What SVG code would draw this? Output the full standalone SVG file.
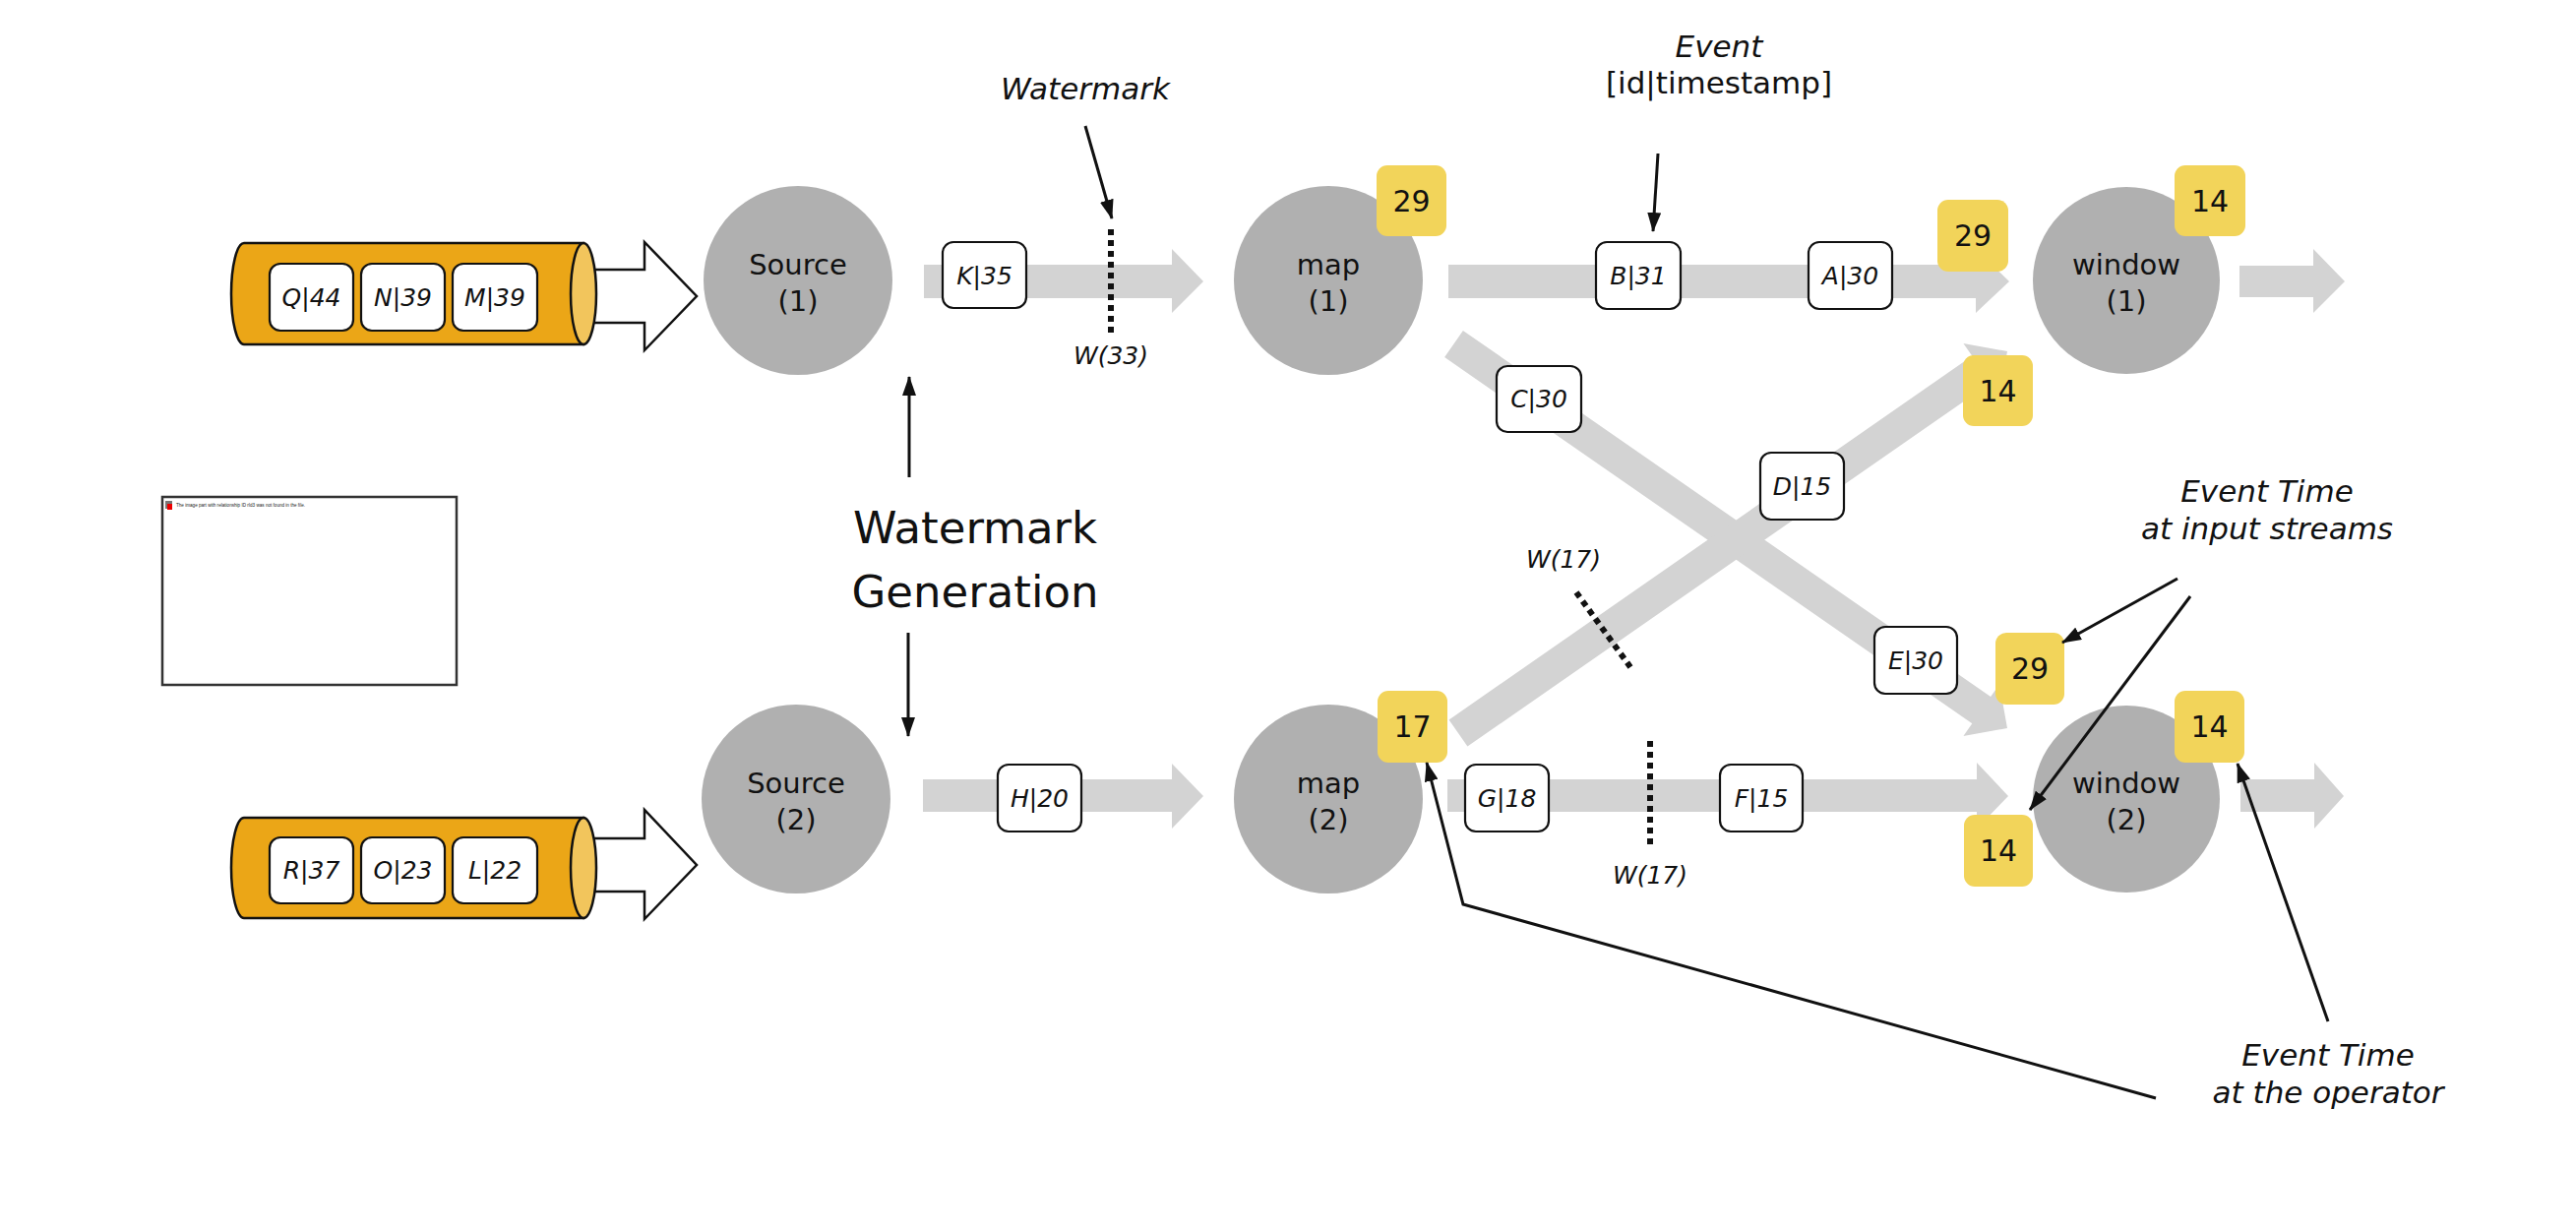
<svg xmlns="http://www.w3.org/2000/svg" width="2618" height="1252" viewBox="0 0 2618 1252">
<defs>
<style>
.node{fill:#B0B0B0}
.band{fill:#D3D3D3}
.badge{fill:#F2D45A}
.evt{fill:#FFFFFF;stroke:#111;stroke-width:2.2}
.ntxt{font-family:"DejaVu Sans",Verdana,sans-serif;font-size:29px;fill:#111;text-anchor:middle}
.etxt{font-family:"DejaVu Sans",Verdana,sans-serif;font-size:25px;font-style:italic;fill:#111;text-anchor:middle}
.btxt{font-family:"DejaVu Sans",Verdana,sans-serif;font-size:30px;fill:#111;text-anchor:middle}
.lbl{font-family:"DejaVu Sans",Verdana,sans-serif;font-size:31px;font-style:italic;fill:#111;text-anchor:middle}
.lbln{font-family:"DejaVu Sans",Verdana,sans-serif;font-size:31px;font-style:normal;fill:#111;text-anchor:middle}
.big{font-family:"DejaVu Sans",Verdana,sans-serif;font-size:45px;fill:#111;text-anchor:middle}
.wtxt{font-family:"DejaVu Sans",Verdana,sans-serif;font-size:25px;font-style:italic;fill:#111;text-anchor:middle}
.dots{stroke:#111;stroke-width:6;stroke-dasharray:6 5;fill:none}
.ann{stroke:#111;stroke-width:3;fill:none}
.cyl{fill:#EBA617;stroke:#111;stroke-width:2.5}
.cylend{fill:#F2C55C;stroke:#111;stroke-width:2.5}
.out{fill:#FFFFFF;stroke:#111;stroke-width:2.5}
</style>
<marker id="ah" viewBox="0 0 20 14" refX="19" refY="7" markerWidth="20" markerHeight="14" markerUnits="userSpaceOnUse" orient="auto">
<path d="M0,0 L20,7 L0,14 z" fill="#111"/>
</marker>
</defs>
<rect width="2618" height="1252" fill="#FFFFFF"/>

<!-- missing image placeholder -->
<g id="placeholder">
<rect x="165" y="505" width="299" height="191" fill="#FFFFFF" stroke="#333" stroke-width="2.5"/>
<rect x="168" y="509" width="7" height="8" fill="#777"/>
<rect x="170" y="512" width="5" height="6" fill="#E00"/>
<text x="179" y="515" font-family="Liberation Sans, Arial, sans-serif" font-size="4.6" fill="#222">The image part with relationship ID rId3 was not found in the file.</text>
</g>

<!-- connectors -->
<g id="connectors">
<path id="c-in1" class="out" d="M600,274 L655,274 L655,246 L708,301 L655,356 L655,328 L600,328"/>
<path id="c-in2" class="out" d="M600,852 L655,852 L655,823 L708,879 L655,934 L655,906 L600,906"/>
<polygon id="c-s1-m1" class="band" points="939,269 1191,269 1191,253 1223,286 1191,318 1191,303 939,303"/>
<polygon id="c-s2-m2" class="band" points="938,792 1191,792 1191,776 1223,809 1191,842 1191,825 938,825"/>
<polygon id="c-m1-w1" class="band" points="1472,269 2008,269 2008,253 2042,286 2008,318 2008,303 1472,303"/>
<polygon id="c-w1-out" class="band" points="2276,270 2351,270 2351,253 2383,286 2351,318 2351,302 2276,302"/>
<polygon id="c-m2-w2" class="band" points="1471,792 2009,792 2009,775 2041,809 2009,842 2009,825 1471,825"/>
<polygon id="c-w2-out" class="band" points="2277,792 2352,792 2352,775 2382,809 2352,842 2352,825 2277,825"/>
<polygon id="c-m1-w2" class="band" points="1486.9,335.9 2023.1,708.1 2032,695.4 2040,740 1995.4,748 2004.3,735.3 1468.1,363.1"/>
<polygon id="c-m2-w1" class="band" points="1472.6,731.4 2004.3,361.7 1995.4,349 2040,357 2032,401.6 2023.1,388.9 1491.4,758.6"/>
</g>

<!-- kafka-like input queues -->
<g id="queue1">
<path class="cyl" d="M248,247 L593,247 L593,350 L248,350 A13,51.5 0 0 1 248,247 z"/>
<ellipse class="cylend" cx="593" cy="298.5" rx="13" ry="51.5"/>
<rect class="evt" x="274" y="268" width="85" height="68" rx="11"/>
<text class="etxt" x="316.5" y="311">Q|44</text>
<rect class="evt" x="367" y="268" width="85" height="68" rx="11"/>
<text class="etxt" x="409.5" y="311">N|39</text>
<rect class="evt" x="460" y="268" width="86" height="68" rx="11"/>
<text class="etxt" x="503" y="311">M|39</text>
</g>
<g id="queue2">
<path class="cyl" d="M248,831 L593,831 L593,933 L248,933 A13,51 0 0 1 248,831 z"/>
<ellipse class="cylend" cx="593" cy="882" rx="13" ry="51"/>
<rect class="evt" x="274" y="851" width="85" height="67" rx="11"/>
<text class="etxt" x="316.5" y="893">R|37</text>
<rect class="evt" x="367" y="851" width="85" height="67" rx="11"/>
<text class="etxt" x="409.5" y="893">O|23</text>
<rect class="evt" x="460" y="851" width="86" height="67" rx="11"/>
<text class="etxt" x="503" y="893">L|22</text>
</g>

<!-- events on streams -->
<g id="events">
<g id="ev-K35"><rect class="evt" x="958" y="246" width="85" height="67" rx="11"/><text class="etxt" x="1000.5" y="289">K|35</text></g>
<g id="ev-B31"><rect class="evt" x="1622" y="246" width="86" height="68" rx="11"/><text class="etxt" x="1665" y="289">B|31</text></g>
<g id="ev-A30"><rect class="evt" x="1838" y="246" width="85" height="68" rx="11"/><text class="etxt" x="1880.5" y="289">A|30</text></g>
<g id="ev-C30"><rect class="evt" x="1521" y="372" width="86" height="67" rx="11"/><text class="etxt" x="1564" y="414">C|30</text></g>
<g id="ev-D15"><rect class="evt" x="1789" y="460" width="85" height="68" rx="11"/><text class="etxt" x="1831.5" y="503">D|15</text></g>
<g id="ev-E30"><rect class="evt" x="1905" y="637" width="84" height="68" rx="11"/><text class="etxt" x="1947" y="680">E|30</text></g>
<g id="ev-H20"><rect class="evt" x="1014" y="777" width="85" height="68" rx="11"/><text class="etxt" x="1056.5" y="820">H|20</text></g>
<g id="ev-G18"><rect class="evt" x="1489" y="777" width="85" height="68" rx="11"/><text class="etxt" x="1531.5" y="820">G|18</text></g>
<g id="ev-F15"><rect class="evt" x="1748" y="777" width="84" height="68" rx="11"/><text class="etxt" x="1790" y="820">F|15</text></g>
</g>

<!-- operator nodes -->
<g id="source1"><circle class="node" cx="811" cy="285" r="96"/><text class="ntxt" x="811" y="279">Source</text><text class="ntxt" x="811" y="316">(1)</text></g>
<g id="source2"><circle class="node" cx="809" cy="812" r="96"/><text class="ntxt" x="809" y="806">Source</text><text class="ntxt" x="809" y="843">(2)</text></g>
<g id="map1"><circle class="node" cx="1350" cy="285" r="96"/><text class="ntxt" x="1350" y="279">map</text><text class="ntxt" x="1350" y="316">(1)</text></g>
<g id="map2"><circle class="node" cx="1350" cy="812" r="96"/><text class="ntxt" x="1350" y="806">map</text><text class="ntxt" x="1350" y="843">(2)</text></g>
<g id="window1"><circle class="node" cx="2161" cy="285" r="95"/><text class="ntxt" x="2161" y="279">window</text><text class="ntxt" x="2161" y="316">(1)</text></g>
<g id="window2"><circle class="node" cx="2161" cy="812" r="95"/><text class="ntxt" x="2161" y="806">window</text><text class="ntxt" x="2161" y="843">(2)</text></g>

<!-- event time badges -->
<g id="badges">
<g id="bd-map1"><rect class="badge" x="1399" y="168" width="71" height="72" rx="11"/><text class="btxt" x="1434.5" y="215">29</text></g>
<g id="bd-w1-in1"><rect class="badge" x="1969" y="203" width="72" height="73" rx="11"/><text class="btxt" x="2005" y="250">29</text></g>
<g id="bd-w1"><rect class="badge" x="2210" y="168" width="72" height="72" rx="11"/><text class="btxt" x="2246" y="215">14</text></g>
<g id="bd-w1-in2"><rect class="badge" x="1995" y="361" width="71" height="72" rx="11"/><text class="btxt" x="2030.5" y="408">14</text></g>
<g id="bd-w2-in1"><rect class="badge" x="2028" y="643" width="70" height="73" rx="11"/><text class="btxt" x="2063" y="690">29</text></g>
<g id="bd-map2"><rect class="badge" x="1400" y="702" width="71" height="73" rx="11"/><text class="btxt" x="1435.5" y="749">17</text></g>
<g id="bd-w2"><rect class="badge" x="2210" y="702" width="71" height="73" rx="11"/><text class="btxt" x="2245.5" y="749">14</text></g>
<g id="bd-w2-in2"><rect class="badge" x="1996" y="828" width="70" height="73" rx="11"/><text class="btxt" x="2031" y="875">14</text></g>
</g>

<!-- watermarks -->
<g id="watermarks">
<line class="dots" x1="1129" y1="233" x2="1129" y2="340"/>
<text class="wtxt" x="1129" y="370">W(33)</text>
<line class="dots" x1="1602" y1="602" x2="1657" y2="678"/>
<text class="wtxt" x="1589" y="577">W(17)</text>
<line class="dots" x1="1677" y1="753" x2="1677" y2="860"/>
<text class="wtxt" x="1677" y="898">W(17)</text>
</g>

<!-- annotations -->
<g id="annotations">
<text class="lbl" x="1103" y="101">Watermark</text>
<line class="ann" x1="1103" y1="128" x2="1130" y2="222" marker-end="url(#ah)"/>
<text class="lbl" x="1747" y="58">Event</text>
<text class="lbln" x="1747" y="95">[id|timestamp]</text>
<line class="ann" x1="1685" y1="156" x2="1680" y2="235" marker-end="url(#ah)"/>
<text class="big" x="991" y="552">Watermark</text>
<text class="big" x="991" y="617">Generation</text>
<line class="ann" x1="924" y1="485" x2="924" y2="383" marker-end="url(#ah)"/>
<line class="ann" x1="923" y1="643" x2="923" y2="748" marker-end="url(#ah)"/>
<text class="lbl" x="2304" y="510">Event Time</text>
<text class="lbl" x="2304" y="548">at input streams</text>
<line class="ann" x1="2213" y1="588" x2="2096" y2="653" marker-end="url(#ah)"/>
<line class="ann" x1="2226" y1="606" x2="2063" y2="823" marker-end="url(#ah)"/>
<text class="lbl" x="2366" y="1083">Event Time</text>
<text class="lbl" x="2366" y="1121">at the operator</text>
<line class="ann" x1="2366" y1="1038" x2="2274" y2="776" marker-end="url(#ah)"/>
<polyline class="ann" points="2191,1116 1487,919 1450,775" marker-end="url(#ah)"/>
</g>
</svg>
